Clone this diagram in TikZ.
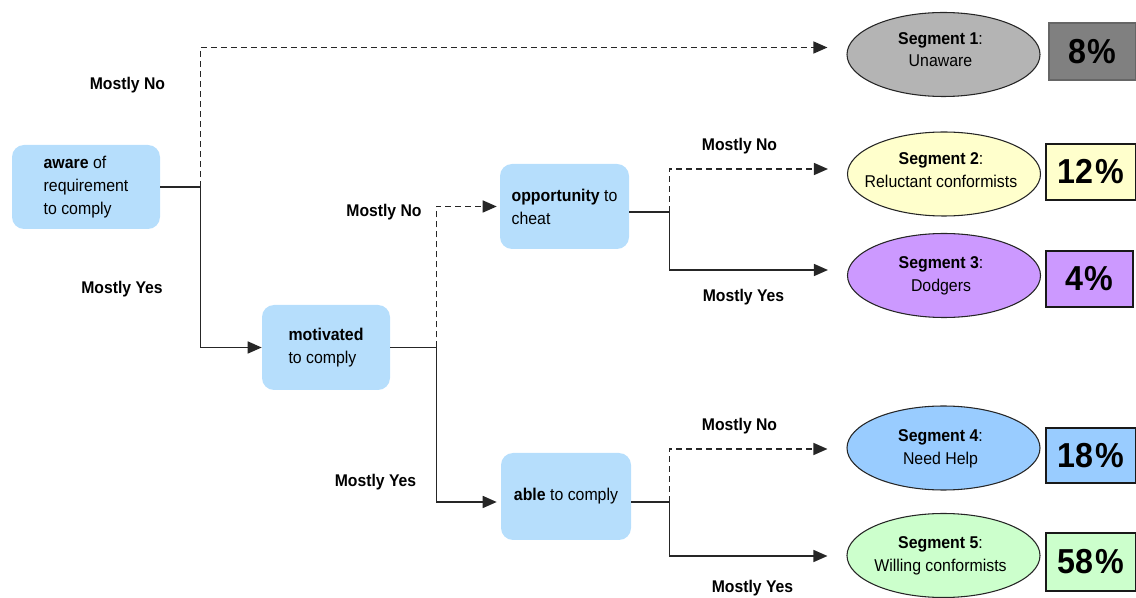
\documentclass[tikz,border=0pt]{standalone}
\usepackage{fontspec}
\setmainfont[FakeStretch=0.93]{Liberation Sans}
\usetikzlibrary{arrows.meta,shapes.geometric}
\definecolor{boxblue}{RGB}{182,222,252}
\definecolor{segone}{RGB}{180,180,180}
\definecolor{pctone}{RGB}{128,128,128}
\definecolor{segtwo}{RGB}{255,255,204}
\definecolor{segthree}{RGB}{204,153,255}
\definecolor{segfour}{RGB}{153,204,255}
\definecolor{segfive}{RGB}{204,255,204}
\newcommand{\pctsign}{\kern1.2pt\%}
\begin{document}
\begin{tikzpicture}[x=0.75pt,y=-0.75pt,
  decision/.style={fill=boxblue, rounded corners=9pt, inner sep=0pt, align=left,
    font=\fontsize{12.8}{17.2}\selectfont},
  seg/.style={ellipse, draw=black!85, line width=0.8pt, minimum width=193*0.75pt,
    minimum height=84*0.75pt, inner sep=0pt},
  segtext/.style={align=center, font=\fontsize{12.8}{17}\selectfont},
  pct/.style={draw=black!90, line width=0.8pt, inner sep=0pt,
    font=\fontsize{26}{26}\bfseries\selectfont},
  lbl/.style={font=\fontsize{12.7}{15}\bfseries\selectfont},
  conn/.style={line width=1.1pt, draw=black!85},
  arr/.style={-{Triangle[length=10.5pt,width=9pt]}},
  dsh/.style={dash pattern=on 4.5pt off 3pt}]
\useasboundingbox (0,0) rectangle (1136,598);

% decision boxes
\node[decision, minimum width=148*0.75pt, minimum height=84*0.75pt] (aware) at (86,187)
  {\textbf{aware} of\\requirement\\to comply};
\node[decision, minimum width=128*0.75pt, minimum height=85*0.75pt] (motiv) at (326,347.5)
  {\textbf{motivated}\\to comply};
\node[decision, minimum width=129*0.75pt, minimum height=85*0.75pt] (opp) at (564.5,206.5)
  {\textbf{opportunity} to\\cheat};
\node[decision, minimum width=130*0.75pt, minimum height=87*0.75pt] (able) at (566,496.5)
  {\textbf{able} to comply};

% segments
\node[seg, fill=segone] (seg1) at (943.5,54.5) {};
\node[segtext] (seg1t) at ([shift={(-3,-5)}]seg1.center) {\textbf{Segment 1}:\\Unaware};
\node[seg, fill=segtwo] (seg2) at (944,174) {};
\node[segtext] (seg2t) at ([shift={(-3,-4)}]seg2.center) {\textbf{Segment 2}:\\Reluctant conformists};
\node[seg, fill=segthree] (seg3) at (944,275.5) {};
\node[segtext] (seg3t) at ([shift={(-3,0)}]seg3.center) {\textbf{Segment 3}:\\Dodgers};
\node[seg, fill=segfour] (seg4) at (943.5,448) {};
\node[segtext] (seg4t) at ([shift={(-3,1)}]seg4.center) {\textbf{Segment 4}:\\Need Help};
\node[seg, fill=segfive] (seg5) at (943.5,555.5) {};
\node[segtext] (seg5t) at ([shift={(-3,0)}]seg5.center) {\textbf{Segment 5}:\\Willing conformists};

% percentages
\node[pct, fill=pctone, draw=black!60, minimum width=87*0.75pt, minimum height=57*0.75pt] (p1) at (1092.5,51.5) {8\pctsign};
\node[pct, fill=segtwo, minimum width=90*0.75pt, minimum height=56*0.75pt] (p2) at (1091,172) {12\pctsign};
\node[pct, fill=segthree, minimum width=87*0.75pt, minimum height=56*0.75pt] (p3) at (1089.5,279) {4\pctsign};
\node[pct, fill=segfour, minimum width=90*0.75pt, minimum height=55*0.75pt] (p4) at (1091,455.5) {18\pctsign};
\node[pct, fill=segfive, minimum width=90*0.75pt, minimum height=58*0.75pt] (p5) at (1091,562) {58\pctsign};

% junctions
\coordinate (j1) at ([shift={(40,0)}]aware.east);
\coordinate (j2) at ([shift={(46,0)}]motiv.east);
\coordinate (j3) at ([shift={(40,5.5)}]opp.east);
\coordinate (j4) at ([shift={(38,5.5)}]able.east);

% connectors
\draw[conn] (aware.east) -- (j1);
\draw[conn, dsh, arr] (j1) |- ([shift={(-19,-7)}]seg1.west);
\draw[conn, arr] (j1) |- (motiv.west);

\draw[conn] (motiv.east) -- (j2);
\draw[conn, dsh, arr] (j2) |- ([shift={(-3,0)}]opp.west);
\draw[conn, arr] (j2) |- ([shift={(-4,5.5)}]able.west);

\draw[conn] ([shift={(0,5.5)}]opp.east) -- (j3);
\draw[conn, dsh, arr] (j3) |- ([shift={(-19,-5)}]seg2.west);
\draw[conn, arr] (j3) |- ([shift={(-19,-5.5)}]seg3.west);

\draw[conn] ([shift={(0,5.5)}]able.east) -- (j4);
\draw[conn, dsh, arr] (j4) |- ([shift={(-19,1)}]seg4.west);
\draw[conn, arr] (j4) |- ([shift={(-19,0.5)}]seg5.west);

% labels
\node[lbl] (l1) at (127.5,85) {Mostly No};
\node[lbl] (l2) at (122,289) {Mostly Yes};
\node[lbl] (l3) at (384,212) {Mostly No};
\node[lbl] (l4) at (375.5,482) {Mostly Yes};
\node[lbl] (l5) at (739.5,146) {Mostly No};
\node[lbl] (l6) at (743.5,297) {Mostly Yes};
\node[lbl] (l7) at (739.5,426) {Mostly No};
\node[lbl] (l8) at (752.5,588) {Mostly Yes};
\end{tikzpicture}
\end{document}
